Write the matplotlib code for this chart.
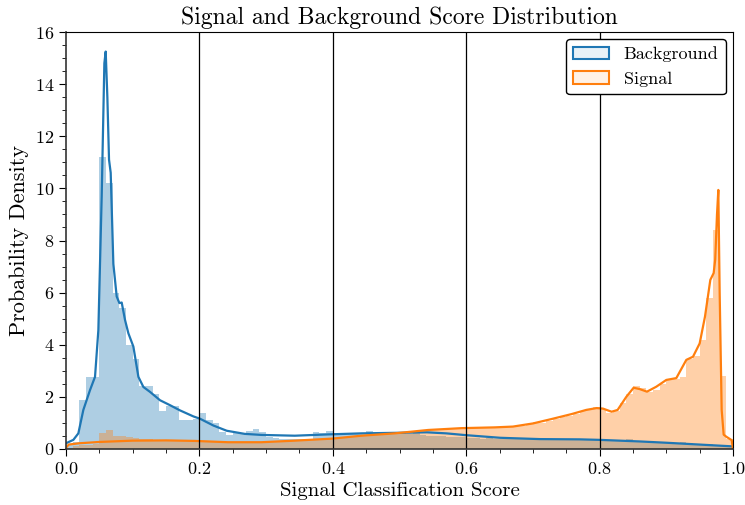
import numpy as np
import matplotlib
matplotlib.use("Agg")
import matplotlib.pyplot as plt
from matplotlib.patches import Patch
from matplotlib.ticker import MultipleLocator

plt.rcParams['font.family'] = 'serif'
plt.rcParams['font.serif'] = ['cmr10']
plt.rcParams['mathtext.fontset'] = 'cm'
plt.rcParams['axes.formatter.use_mathtext'] = True

# histogram densities, 100 bins of width 0.01 on [0, 1]
background_hist = [
    0.15, 0.25, 1.88, 2.77, 2.77, 11.2, 10.2, 6.0, 5.4, 4.0,
    3.45, 2.4, 2.4, 2.1, 1.45, 1.65, 1.65, 1.1, 1.1, 1.15,
    1.37, 1.1, 1.0, 0.67, 0.54, 0.63, 0.63, 0.7, 0.75, 0.67,
    0.47, 0.43, 0.37, 0.4, 0.37, 0.37, 0.37, 0.67, 0.6, 0.68,
    0.63, 0.63, 0.6, 0.6, 0.6, 0.68, 0.6, 0.6, 0.6, 0.6,
    0.6, 0.58, 0.6, 0.55, 0.5, 0.48, 0.5, 0.47, 0.45, 0.45,
    0.43, 0.42, 0.4, 0.42, 0.4, 0.38, 0.4, 0.38, 0.37, 0.38,
    0.37, 0.36, 0.38, 0.35, 0.36, 0.35, 0.36, 0.34, 0.35, 0.33,
    0.32, 0.33, 0.3, 0.32, 0.38, 0.3, 0.28, 0.3, 0.27, 0.26,
    0.26, 0.24, 0.25, 0.22, 0.2, 0.2, 0.18, 0.17, 0.15, 0.12,
]
signal_hist = [
    0.05, 0.12, 0.15, 0.17, 0.2, 0.63, 0.72, 0.5, 0.5, 0.45,
    0.44, 0.37, 0.37, 0.33, 0.35, 0.3, 0.33, 0.3, 0.32, 0.3,
    0.3, 0.28, 0.27, 0.25, 0.26, 0.25, 0.24, 0.26, 0.25, 0.24,
    0.25, 0.27, 0.28, 0.3, 0.3, 0.33, 0.35, 0.36, 0.38, 0.4,
    0.42, 0.44, 0.47, 0.48, 0.5, 0.54, 0.55, 0.58, 0.6, 0.62,
    0.66, 0.68, 0.7, 0.72, 0.74, 0.76, 0.78, 0.79, 0.8, 0.82,
    0.82, 0.83, 0.84, 0.84, 0.85, 0.84, 0.86, 0.88, 0.9, 0.95,
    1.02, 1.0, 1.08, 1.15, 1.22, 1.28, 1.35, 1.45, 1.5, 1.6,
    1.55, 1.4, 1.45, 1.75, 2.1, 2.4, 2.35, 2.2, 2.25, 2.5,
    2.65, 2.7, 2.75, 3.45, 3.55, 4.2, 5.8, 8.4, 2.8, 0.4,
]

# kernel density estimates
background_kde_x = [
    0.0, 0.005, 0.011, 0.0185, 0.026, 0.036, 0.0435, 0.0485, 0.0535, 0.0575,
    0.0595, 0.062, 0.0645, 0.067, 0.071, 0.076, 0.08, 0.0835, 0.0885, 0.0935,
    0.101, 0.1085, 0.116, 0.126, 0.141, 0.156, 0.171, 0.191, 0.201, 0.221,
    0.241, 0.268, 0.293, 0.343, 0.393, 0.443, 0.493, 0.541, 0.57, 0.6,
    0.651, 0.71, 0.77, 0.8, 0.86, 0.9, 0.95, 1.0,
]
background_kde_y = [
    0.22, 0.28, 0.35, 0.6, 1.5, 2.26, 2.77, 4.56, 9.7, 14.8,
    15.25, 13.5, 11.1, 10.6, 7.1, 5.85, 5.6, 5.62, 4.95, 4.44,
    3.93, 2.77, 2.38, 2.19, 1.87, 1.68, 1.48, 1.25, 1.16, 0.9,
    0.7, 0.58, 0.54, 0.51, 0.56, 0.6, 0.62, 0.64, 0.6, 0.53,
    0.43, 0.38, 0.37, 0.35, 0.29, 0.24, 0.17, 0.1,
]
signal_kde_x = [
    0.0, 0.004, 0.02, 0.05, 0.1, 0.15, 0.193, 0.243, 0.293, 0.343,
    0.4, 0.443, 0.493, 0.543, 0.593, 0.643, 0.67, 0.7, 0.728, 0.758,
    0.78, 0.7956, 0.805, 0.818, 0.827, 0.84, 0.851, 0.86, 0.871, 0.885,
    0.9, 0.915, 0.93, 0.94, 0.95, 0.958, 0.966, 0.971, 0.9733, 0.976,
    0.978, 0.98, 0.983, 0.986, 0.99, 0.998, 1.0,
]
signal_kde_y = [
    0.05, 0.17, 0.22, 0.27, 0.32, 0.33, 0.31, 0.26, 0.26, 0.32,
    0.4, 0.51, 0.6, 0.73, 0.8, 0.83, 0.86, 0.98, 1.15, 1.34,
    1.5, 1.57, 1.55, 1.43, 1.5, 2.0, 2.35, 2.3, 2.2, 2.39,
    2.65, 2.72, 3.42, 3.54, 4.05, 5.08, 6.49, 6.75, 7.26, 9.0,
    9.94, 6.0, 1.5, 0.55, 0.47, 0.34, 0.0,
]

cut_lines = [0.2, 0.4, 0.6, 0.8]

blue = '#1f77b4'
orange = '#ff7f0e'

fig = plt.figure(figsize=(7.45, 5.05), dpi=100)
ax = fig.add_axes([0.0886, 0.1109, 0.8953, 0.8257])

bin_left = np.arange(len(background_hist)) * 0.01
ax.bar(bin_left, background_hist, width=0.01, align='edge', color=blue, alpha=0.36, linewidth=0)
ax.bar(bin_left, signal_hist, width=0.01, align='edge', color=orange, alpha=0.36, linewidth=0)
ax.plot(background_kde_x, background_kde_y, color=blue, lw=1.6)
ax.plot(signal_kde_x, signal_kde_y, color=orange, lw=1.6)

for x in cut_lines:
    ax.axvline(x, color='black', lw=0.9)

ax.set_xlim(0, 1)
ax.set_ylim(0, 16)
ax.xaxis.set_major_locator(MultipleLocator(0.2))
ax.xaxis.set_minor_locator(MultipleLocator(0.05))
ax.yaxis.set_major_locator(MultipleLocator(2))
ax.yaxis.set_minor_locator(MultipleLocator(0.5))
ax.tick_params(which='major', direction='out', length=5, width=0.8, labelsize=13)
ax.tick_params(which='minor', direction='out', length=3, width=0.6)
for side in ['left', 'bottom']:
    ax.spines[side].set_linewidth(1.2)
    ax.spines[side].set_color('#333333')

ax.set_xlabel('Signal Classification Score', fontsize=15)
ax.set_ylabel('Probability Density', fontsize=16)
ax.set_title('Signal and Background Score Distribution', fontsize=17)

handles = [
    Patch(facecolor=(0.12, 0.47, 0.71, 0.1), edgecolor=blue, linewidth=1.5, label='Background'),
    Patch(facecolor=(1.0, 0.5, 0.05, 0.1), edgecolor=orange, linewidth=1.5, label='Signal'),
]
leg = ax.legend(handles=handles, loc='upper right', fontsize=13, framealpha=1, fancybox=True,
                handlelength=2.0, borderaxespad=0.4)
leg.get_frame().set_edgecolor('black')

fig.savefig('out.png', dpi=100)
